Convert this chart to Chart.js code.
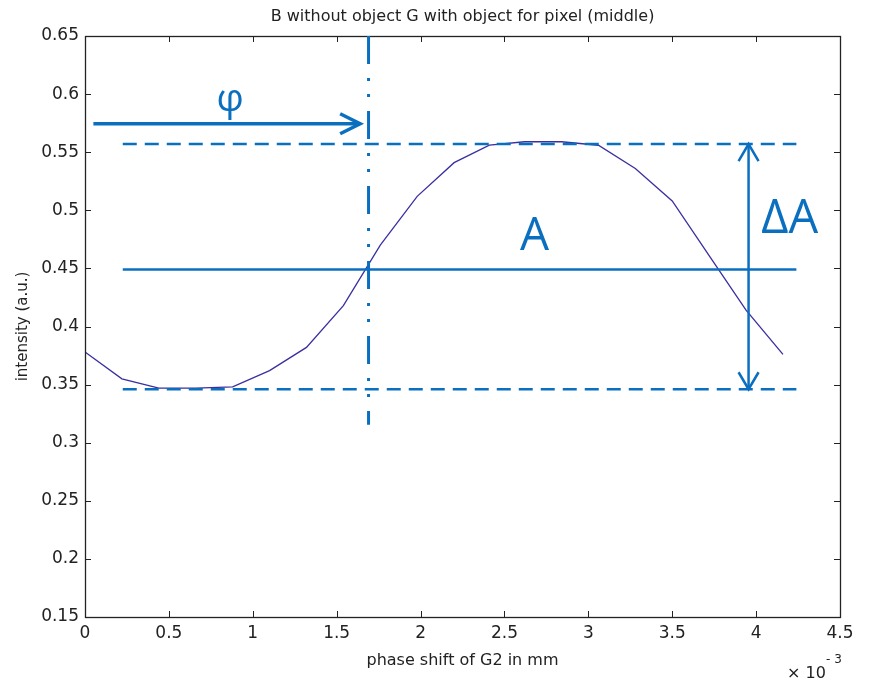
<!DOCTYPE html>
<html>
<head>
<meta charset="utf-8">
<script src="https://cdn.jsdelivr.net/npm/chart.js@4.4.0/dist/chart.umd.min.js"></script>
<style>
    html, body { margin: 0; padding: 0; background: #fff; }
    canvas { display: block; }
</style>
</head>
<body>
<canvas id="chart" width="870" height="685"></canvas>
<script>
// data (x in units of 10^-3 mm)
const phaseShift = [0, 0.22, 0.44, 0.66, 0.88, 1.10, 1.32, 1.54, 1.76, 1.98,
    2.20, 2.41, 2.62, 2.84, 3.06, 3.28, 3.50, 3.72, 3.94, 4.16];
const intensity = [0.378, 0.355, 0.347, 0.347, 0.348, 0.362, 0.382, 0.418, 0.470, 0.512,
    0.541, 0.556, 0.559, 0.559, 0.556, 0.536, 0.508, 0.461, 0.414, 0.376];
const xTicks = [0, 0.5, 1, 1.5, 2, 2.5, 3, 3.5, 4, 4.5];
const yTicks = [0.15, 0.2, 0.25, 0.3, 0.35, 0.4, 0.45, 0.5, 0.55, 0.6, 0.65];

// annotation values (data units)
const phaseX = 1.69;
const meanA = 0.449;
const maxA = 0.557;
const minA = 0.346;
const levelFrom = 0.225;
const levelTo = 4.24;
const deltaX = 3.955;

const BLUE = "#0b6fc0";
const TICK_FONT = "DejaVu Sans";

function chevron(ctx, x, y, dx, dy, len, half) {
    // open arrow head pointing in direction (dx, dy)
    const bx = x - dx * len, by = y - dy * len;
    const px = -dy * half, py = dx * half;
    ctx.beginPath();
    ctx.moveTo(bx + px, by + py);
    ctx.lineTo(x, y);
    ctx.lineTo(bx - px, by - py);
    ctx.stroke();
}

const matlabFrame = {
    id: "matlabFrame",
    afterDatasetsDraw(chart) {
        const { ctx, chartArea: a } = chart;
        const xs = chart.scales.x, ys = chart.scales.y;
        const X = v => xs.getPixelForValue(v);
        const Y = v => ys.getPixelForValue(v);

        ctx.save();

        // box and inward ticks
        ctx.strokeStyle = "#222";
        ctx.lineWidth = 1.3;
        ctx.strokeRect(a.left + 0.5, a.top + 0.5, a.right - a.left, a.bottom - a.top);
        ctx.lineWidth = 1;
        ctx.beginPath();
        xTicks.forEach(v => {
            const px = Math.round(X(v)) + 0.5;
            ctx.moveTo(px, a.bottom); ctx.lineTo(px, a.bottom - 6);
            ctx.moveTo(px, a.top); ctx.lineTo(px, a.top + 6);
        });
        yTicks.forEach(v => {
            const py = Math.round(Y(v)) + 0.5;
            ctx.moveTo(a.left, py); ctx.lineTo(a.left + 6, py);
            ctx.moveTo(a.right, py); ctx.lineTo(a.right - 6, py);
        });
        ctx.stroke();

        // title
        ctx.fillStyle = "#222";
        ctx.font = "16px " + TICK_FONT;
        ctx.textAlign = "center";
        ctx.textBaseline = "middle";
        ctx.fillText("B without object G with object for pixel (middle)", (a.left + a.right) / 2, 17);

        // exponent
        ctx.font = "16px " + TICK_FONT;
        ctx.textAlign = "left";
        ctx.textBaseline = "alphabetic";
        ctx.fillText("\u00d7 10", 787, 678);
        ctx.font = "12px " + TICK_FONT;
        ctx.fillText("- 3", 826, 663);

        // annotations
        ctx.strokeStyle = BLUE;
        ctx.fillStyle = BLUE;
        ctx.lineCap = "butt";

        // phase marker, dash-dot
        ctx.lineWidth = 3;
        ctx.setLineDash([28, 14, 3, 13, 3, 14]);
        ctx.beginPath();
        ctx.moveTo(X(phaseX), Y(0.65));
        ctx.lineTo(X(phaseX), Y(0.3155));
        ctx.stroke();

        // max / min levels, dashed
        ctx.lineWidth = 2.5;
        ctx.setLineDash([14, 8]);
        [maxA, minA].forEach(v => {
            ctx.beginPath();
            ctx.moveTo(X(levelFrom), Y(v));
            ctx.lineTo(X(levelTo), Y(v));
            ctx.stroke();
        });

        // mean level
        ctx.setLineDash([]);
        ctx.beginPath();
        ctx.moveTo(X(levelFrom), Y(meanA));
        ctx.lineTo(X(levelTo), Y(meanA));
        ctx.stroke();

        // phase arrow
        ctx.lineWidth = 3.5;
        const ay = Y(0.5745);
        ctx.beginPath();
        ctx.moveTo(X(0.05), ay);
        ctx.lineTo(X(1.64), ay);
        ctx.stroke();
        chevron(ctx, X(1.64), ay, 1, 0, 20, 10);

        // amplitude double arrow
        ctx.lineWidth = 2.5;
        ctx.beginPath();
        ctx.moveTo(X(deltaX), Y(maxA));
        ctx.lineTo(X(deltaX), Y(minA));
        ctx.stroke();
        chevron(ctx, X(deltaX), Y(maxA), 0, -1, 17, 10);
        chevron(ctx, X(deltaX), Y(minA), 0, 1, 17, 10);

        // labels
        ctx.textAlign = "center";
        ctx.textBaseline = "alphabetic";
        ctx.font = "46px 'Open Sans'";
        ctx.fillText("A", X(2.68), 250);
        ctx.font = "47px 'Open Sans'";
        ctx.fillText("\u0394A", X(4.2), 233);
        ctx.font = "38px 'Open Sans'";
        ctx.fillText("\u03c6", X(0.865), 111);

        ctx.restore();
    }
};

new Chart(document.getElementById("chart"), {
    type: "line",
    data: {
        datasets: [{
            data: phaseShift.map((x, i) => ({ x: x, y: intensity[i] })),
            borderColor: "#3a2fa0",
            borderWidth: 1.3,
            pointRadius: 0,
            tension: 0,
            fill: false
        }]
    },
    options: {
        responsive: false,
        animation: false,
        layout: { padding: { top: 36, right: 30, bottom: 0, left: 0 } },
        plugins: {
            legend: { display: false },
            tooltip: { enabled: false }
        },
        scales: {
            x: {
                type: "linear",
                min: 0,
                max: 4.5,
                afterBuildTicks: s => { s.ticks = xTicks.map(v => ({ value: v })); },
                afterFit: s => { s.height = 68; },
                grid: { display: false, drawTicks: false },
                border: { display: false },
                ticks: {
                    padding: 6,
                    color: "#222",
                    font: { family: TICK_FONT, size: 17 },
                    maxRotation: 0,
                    callback: v => String(Number(v.toFixed(2)))
                },
                title: {
                    display: true,
                    text: "phase shift of G2 in mm",
                    color: "#222",
                    font: { family: TICK_FONT, size: 16 },
                    padding: { top: 0, bottom: 15 }
                }
            },
            y: {
                type: "linear",
                min: 0.15,
                max: 0.65,
                afterBuildTicks: s => { s.ticks = yTicks.map(v => ({ value: v })); },
                afterFit: s => { s.width = 85; },
                grid: { display: false, drawTicks: false },
                border: { display: false },
                ticks: {
                    padding: 6,
                    color: "#222",
                    font: { family: TICK_FONT, size: 17 },
                    callback: v => String(Number(v.toFixed(2)))
                },
                title: {
                    display: true,
                    text: "intensity (a.u.)",
                    color: "#222",
                    font: { family: TICK_FONT, size: 15 },
                    padding: { top: 14, bottom: 0 }
                }
            }
        }
    },
    plugins: [matlabFrame]
});
</script>
</body>
</html>
